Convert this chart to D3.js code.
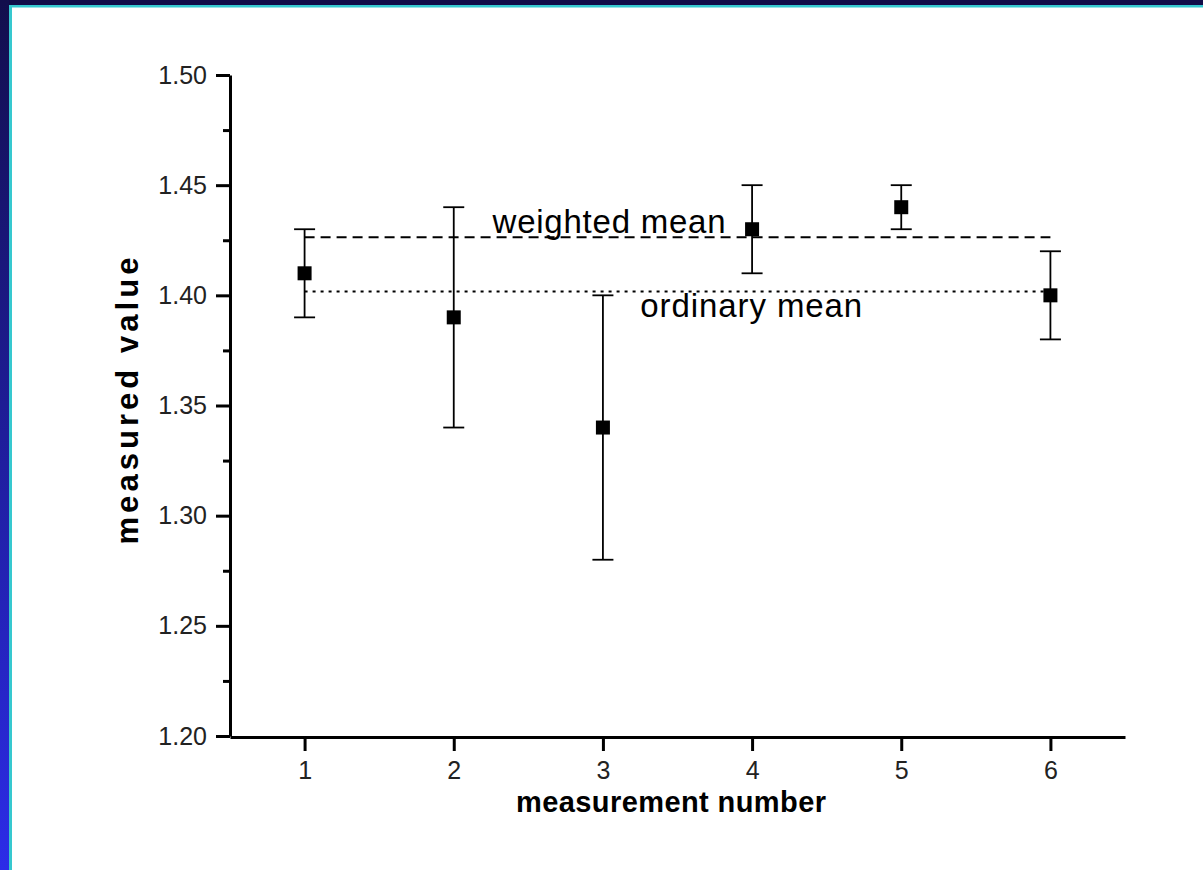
<!DOCTYPE html>
<html>
<head>
<meta charset="utf-8">
<script src="https://cdn.jsdelivr.net/npm/d3@7"></script>
<style>
  html, body { margin: 0; padding: 0; background: #fff; }
  svg { display: block; }
</style>
</head>
<body>
<script>
// ---- data ----
const measurements = [1, 2, 3, 4, 5, 6];
const measuredValues = [1.41, 1.39, 1.34, 1.43, 1.44, 1.40];
const errors = [0.02, 0.05, 0.06, 0.02, 0.01, 0.02];
const weightedMean = 1.4264;
const ordinaryMean = 1.4017;
const yMajorTicks = [1.20, 1.25, 1.30, 1.35, 1.40, 1.45, 1.50];
const yMinorTicks = [1.225, 1.275, 1.325, 1.375, 1.425, 1.475];
const xTicks = [1, 2, 3, 4, 5, 6];
const xTitle = "measurement number";
const yTitle = "measured value";
const weightedLabel = "weighted mean";
const ordinaryLabel = "ordinary mean";

const W = 1203, H = 870;
const svg = d3.select("body").append("svg").attr("width", W).attr("height", H);

// ---- frame ----
const defs = svg.append("defs");
const grad = defs.append("linearGradient").attr("id", "leftGrad")
  .attr("x1", 0).attr("y1", 0).attr("x2", 0).attr("y2", 1);
grad.append("stop").attr("offset", "0%").attr("stop-color", "#120e4c");
grad.append("stop").attr("offset", "100%").attr("stop-color", "#2c2ce8");
svg.append("rect").attr("x", 0).attr("y", 0).attr("width", W).attr("height", H).attr("fill", "#fff");
svg.append("rect").attr("x", 0).attr("y", 0).attr("width", W).attr("height", 5).attr("fill", "#110c48");
svg.append("rect").attr("x", 0).attr("y", 0).attr("width", 9).attr("height", H).attr("fill", "url(#leftGrad)");
svg.append("rect").attr("x", 9).attr("y", 5).attr("width", W - 9).attr("height", 2.5).attr("fill", "#36c8cf");
svg.append("rect").attr("x", 9).attr("y", 5).attr("width", 3).attr("height", H - 5).attr("fill", "#36c8cf");

// ---- scales ----
const x = d3.scaleLinear().domain([0.5, 6.5]).range([230, 1125]);
const y = d3.scaleLinear().domain([1.2, 1.5]).range([736, 75]);

const font = "Arial, 'Liberation Sans', sans-serif";

// ---- axes ----
const yAxis = svg.append("g").attr("transform", "translate(230,0)")
  .call(d3.axisLeft(y).tickValues(yMajorTicks).tickFormat(d3.format(".2f"))
    .tickSize(14).tickSizeOuter(0).tickPadding(9));
const yMinor = svg.append("g").attr("transform", "translate(230,0)")
  .call(d3.axisLeft(y).tickValues(yMinorTicks).tickFormat("").tickSize(7).tickSizeOuter(0));
yMinor.select(".domain").remove();

const xAxis = svg.append("g").attr("transform", "translate(0,737)")
  .call(d3.axisBottom(x).tickValues(xTicks).tickFormat(d3.format("d"))
    .tickSize(14).tickSizeOuter(0).tickPadding(10));

[yAxis, yMinor, xAxis].forEach(g => {
  g.selectAll("path.domain").attr("stroke", "#000").attr("stroke-width", 3);
  g.selectAll(".tick line").attr("stroke", "#000").attr("stroke-width", 3);
  g.selectAll(".tick text").attr("font-family", font).attr("font-size", 25)
    .attr("fill", "#222");
});

// ---- mean lines ----
svg.append("line")
  .attr("x1", x(1)).attr("x2", x(6))
  .attr("y1", y(weightedMean)).attr("y2", y(weightedMean))
  .attr("stroke", "#000").attr("stroke-width", 2).attr("stroke-dasharray", "10,6");
svg.append("line")
  .attr("x1", x(1)).attr("x2", x(6))
  .attr("y1", y(ordinaryMean)).attr("y2", y(ordinaryMean))
  .attr("stroke", "#000").attr("stroke-width", 2).attr("stroke-dasharray", "3,5");

svg.append("text")
  .attr("x", x(2.26)).attr("y", y(weightedMean) - 4)
  .attr("font-family", font).attr("font-size", 33).attr("fill", "#000")
  .attr("textLength", 233).attr("lengthAdjust", "spacing")
  .text(weightedLabel);
svg.append("text")
  .attr("x", x(3.25)).attr("y", y(ordinaryMean) + 25)
  .attr("font-family", font).attr("font-size", 33).attr("fill", "#000")
  .attr("textLength", 222).attr("lengthAdjust", "spacing")
  .text(ordinaryLabel);

// ---- error bars & markers ----
const pts = measurements.map((m, i) => ({ m, v: measuredValues[i], e: errors[i] }));
const capW = 21, sq = 14;
const eb = svg.append("g").attr("stroke", "#000").attr("stroke-width", 1.8);
eb.selectAll("line.v").data(pts).join("line").attr("class", "v")
  .attr("x1", d => x(d.m)).attr("x2", d => x(d.m))
  .attr("y1", d => y(d.v - d.e)).attr("y2", d => y(d.v + d.e));
eb.selectAll("line.top").data(pts).join("line").attr("class", "top")
  .attr("x1", d => x(d.m) - capW / 2).attr("x2", d => x(d.m) + capW / 2)
  .attr("y1", d => y(d.v + d.e)).attr("y2", d => y(d.v + d.e));
eb.selectAll("line.bot").data(pts).join("line").attr("class", "bot")
  .attr("x1", d => x(d.m) - capW / 2).attr("x2", d => x(d.m) + capW / 2)
  .attr("y1", d => y(d.v - d.e)).attr("y2", d => y(d.v - d.e));
svg.append("g").selectAll("rect").data(pts).join("rect")
  .attr("x", d => x(d.m) - sq / 2).attr("y", d => y(d.v) - sq / 2)
  .attr("width", sq).attr("height", sq).attr("fill", "#000");

// ---- axis titles ----
svg.append("text")
  .attr("x", 671).attr("y", 812).attr("text-anchor", "middle")
  .attr("font-family", font).attr("font-size", 29).attr("font-weight", "bold")
  .attr("textLength", 310).attr("lengthAdjust", "spacing")
  .text(xTitle);
svg.append("text")
  .attr("transform", "translate(138,401) rotate(-90)").attr("text-anchor", "middle")
  .attr("font-family", font).attr("font-size", 31).attr("font-weight", "bold")
  .attr("textLength", 287).attr("lengthAdjust", "spacing")
  .text(yTitle);
</script>
</body>
</html>
